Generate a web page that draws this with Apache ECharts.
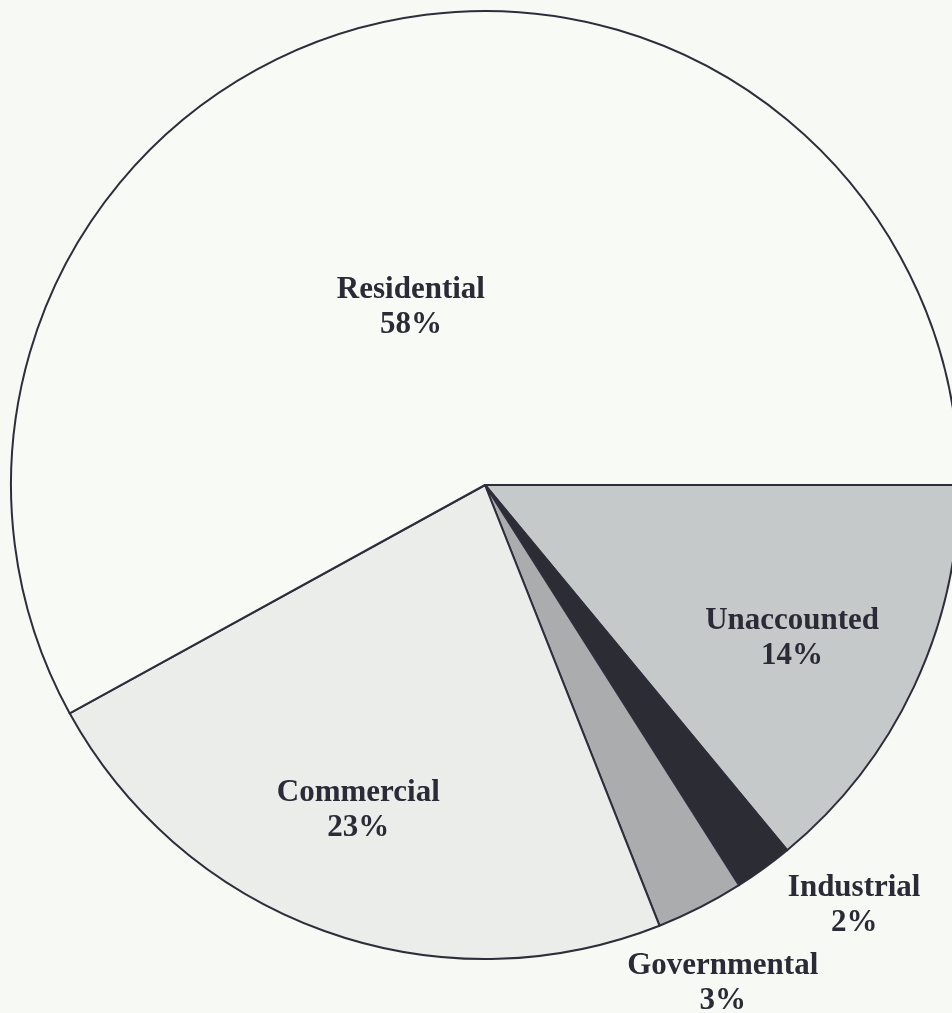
<!DOCTYPE html>
<html>
<head>
<meta charset="utf-8">
<title>Water use by sector</title>
<script src="https://cdn.jsdelivr.net/npm/echarts@6/dist/echarts.min.js"></script>
<style>
  html, body { margin: 0; padding: 0; background: #f7f9f5; }
  #chart { width: 952px; height: 1013px; }
</style>
</head>
<body>
<div id="chart"></div>
<script>
// Sectors in clockwise order, starting at 3 o'clock
const categories = ['Unaccounted', 'Industrial', 'Governmental', 'Commercial', 'Residential'];
const shares = [14, 2, 3, 23, 58];

// Fill shade per sector
const fills = ['#c6c9c9', '#2c2c34', '#aaacad', '#eaede9', '#f8faf6'];
// Label placement: [angle in degrees clockwise from 3 o'clock, distance as fraction of radius]
const labelPlaces = [[26.5, 0.724], [48.7, 1.18], [64.5, 1.165], [111.3, 0.736], [247.3, 0.405]];

const CX = 485, CY = 485, R = 474;

const chart = echarts.init(document.getElementById('chart'), null, { renderer: 'canvas' });

chart.setOption({
  backgroundColor: '#f7f9f5',
  animation: false,
  series: [{
    type: 'pie',
    center: [CX, CY],
    radius: [0, R],
    startAngle: 0,
    clockwise: true,
    avoidLabelOverlap: false,
    data: categories.map((name, i) => ({
      name,
      value: shares[i],
      itemStyle: { color: fills[i] }
    })),
    itemStyle: { borderColor: '#2f2d3b', borderWidth: 2 },
    label: {
      show: true,
      position: 'inside',
      formatter: p => p.name + '\n' + p.value + '%',
      fontFamily: '"Liberation Serif", "Times New Roman", serif',
      fontWeight: 'bold',
      fontSize: 31,
      lineHeight: 35,
      color: '#2b2b38',
      align: 'center'
    },
    labelLine: { show: false },
    labelLayout: params => {
      const [deg, frac] = labelPlaces[params.dataIndex];
      const a = deg * Math.PI / 180;
      return {
        x: CX + Math.cos(a) * frac * R,
        y: CY + Math.sin(a) * frac * R,
        align: 'center',
        verticalAlign: 'middle'
      };
    },
    emphasis: { disabled: true }
  }]
});
</script>
</body>
</html>
